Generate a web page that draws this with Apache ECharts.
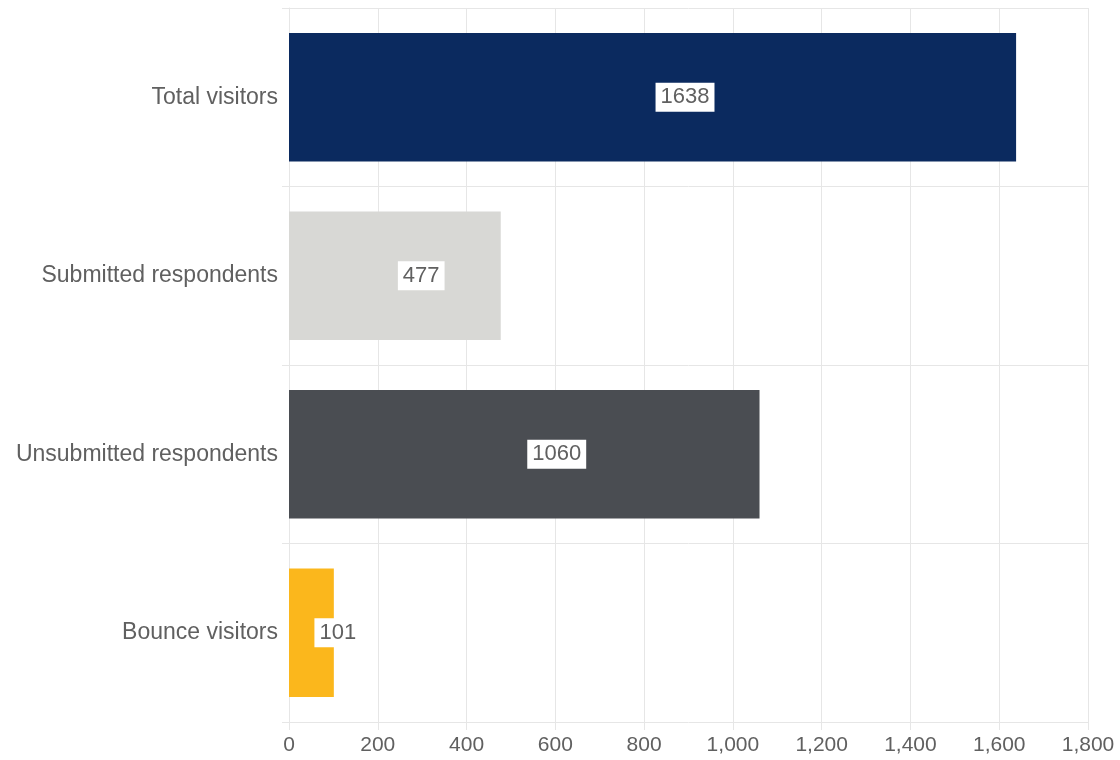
<!DOCTYPE html>
<html><head><meta charset="utf-8">
<script src="https://cdn.jsdelivr.net/npm/echarts@6/dist/echarts.min.js"></script>
<style>html,body{margin:0;padding:0;background:#fff}#c{width:1120px;height:760px}</style>
</head><body><div id="c"></div>
<script>
const categories = ["Total visitors", "Submitted respondents", "Unsubmitted respondents", "Bounce visitors"];
const values = [1638, 477, 1060, 101];
const barColors = ["#0b2a5f", "#d8d8d5", "#4a4d52", "#fbb71c"];
const xTicks = { min: 0, max: 1800, interval: 200 };

const chart = echarts.init(document.getElementById('c'));
chart.setOption({
  backgroundColor: '#fff',
  animation: false,
  grid: { left: 289, right: 32, top: 8, bottom: 38, containLabel: false },
  xAxis: {
    type: 'value', min: xTicks.min, max: xTicks.max, interval: xTicks.interval,
    axisLine: { show: false },
    axisTick: { show: true, length: 8, lineStyle: { color: '#e6e6e6' } },
    splitLine: { show: true, lineStyle: { color: '#e6e6e6' } },
    axisLabel: { color: '#606060', fontSize: 21, fontFamily: 'Liberation Sans, Arial', margin: 13,
      formatter: v => v.toLocaleString('en-US') }
  },
  yAxis: {
    type: 'category', data: categories, inverse: true,
    axisLine: { show: true, lineStyle: { color: '#e6e6e6' } },
    axisTick: { show: true, length: 7, lineStyle: { color: '#e6e6e6' } },
    splitLine: { show: true, lineStyle: { color: '#e6e6e6' } },
    axisLabel: { color: '#606060', fontSize: 23, fontFamily: 'Liberation Sans, Arial', margin: 11 }
  },
  series: [{
    type: 'bar',
    data: values.map((v, i) => ({ value: v, itemStyle: { color: barColors[i] } })),
    barCategoryGap: '28%',
    label: {
      show: true, position: ['50%', '50%'], align: 'left', verticalAlign: 'middle', offset: [3, 0],
      color: '#606060', fontSize: 22, fontFamily: 'Liberation Sans, Arial',
      backgroundColor: '#fff', padding: [4, 5, 3, 5]
    }
  }]
});
</script></body></html>
